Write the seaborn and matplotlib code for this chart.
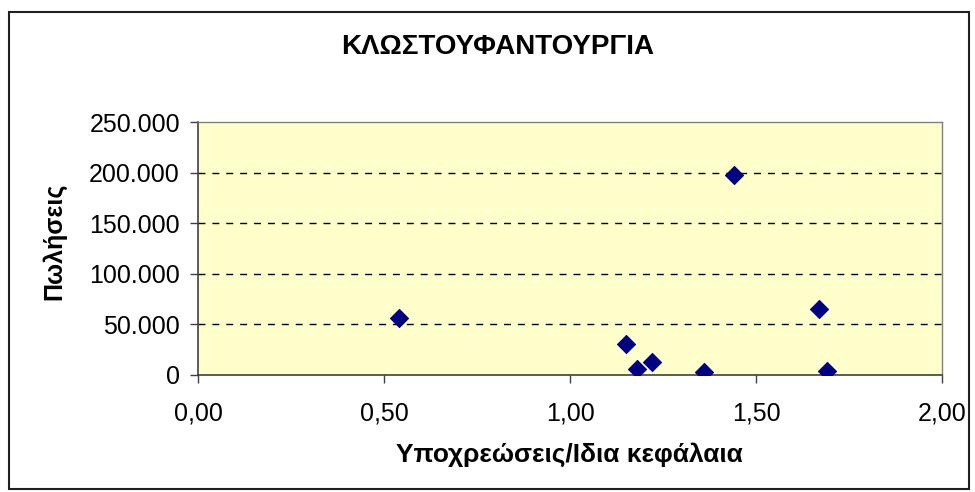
import matplotlib
matplotlib.use('Agg')
import matplotlib.pyplot as plt
import matplotlib.ticker as mticker
import seaborn as sns
import pandas as pd

# ratio liabilities / equity vs sales
ratio = [0.54, 1.15, 1.18, 1.22, 1.36, 1.44, 1.67, 1.69]
sales = [56500, 30500, 5900, 12800, 3000, 198000, 65000, 4000]

df = pd.DataFrame({'ratio': ratio, 'sales': sales})

sns.set_style("white")
plt.rcParams['font.family'] = ['Liberation Sans', 'DejaVu Sans']
plt.rcParams['text.color'] = 'black'
plt.rcParams['xtick.labelcolor'] = 'black'
plt.rcParams['ytick.labelcolor'] = 'black'

fig = plt.figure(figsize=(9.75, 4.92), dpi=100)
ax = fig.add_axes([198/975, 117/492, 744/975, 253/492])
ax.set_facecolor('#FFFFCC')

sns.scatterplot(data=df, x='ratio', y='sales', marker='D', s=85,
                color='#000080', edgecolor='#000080', ax=ax, zorder=3)

ax.set_xlim(0, 2)
ax.set_ylim(0, 250000)
ax.set_xticks([0, 0.5, 1.0, 1.5, 2.0])
ax.set_yticks([0, 50000, 100000, 150000, 200000, 250000])
ax.xaxis.set_major_formatter(mticker.FuncFormatter(lambda v, p: f"{v:.2f}".replace('.', ',')))
ax.yaxis.set_major_formatter(mticker.FuncFormatter(lambda v, p: f"{int(v):,}".replace(',', '.')))

for yv in [50000, 100000, 150000, 200000]:
    ax.axhline(yv, color='black', lw=1, ls=(0, (5, 5)), zorder=1)

for side in ['top', 'right']:
    ax.spines[side].set_color('#808080')
    ax.spines[side].set_linewidth(1)
for side in ['left', 'bottom']:
    ax.spines[side].set_color('#404040')
    ax.spines[side].set_linewidth(1.2)

ax.tick_params(axis='both', which='major', labelsize=18, direction='out',
               length=6, width=1, color='#404040', labelcolor='black', left=True, bottom=True)
ax.tick_params(axis='x', pad=13)
ax.tick_params(axis='y', pad=7)
ax.set_xlabel('')
ax.set_ylabel('')

fig.text(569/975, 1 - 455/492, 'Υποχρεώσεις/Ιδια κεφάλαια', fontsize=19, fontweight='bold',
         ha='center', va='center', color='black')
fig.text(54/975, 1 - 241/492, 'Πωλήσεις', fontsize=18, fontweight='bold',
         ha='center', va='center', rotation=90, color='black')
fig.text(498/975, 1 - 47/492, 'ΚΛΩΣΤΟΥΦΑΝΤΟΥΡΓΙΑ', fontsize=20, fontweight='bold',
         ha='center', va='center', color='black')

# outer chart border
fig.patches.append(plt.Rectangle((9/975, 3/492), 960/975, 477/492, transform=fig.transFigure,
                                 fill=False, edgecolor='#202020', lw=1.5))

fig.savefig('out.png', dpi=100)
